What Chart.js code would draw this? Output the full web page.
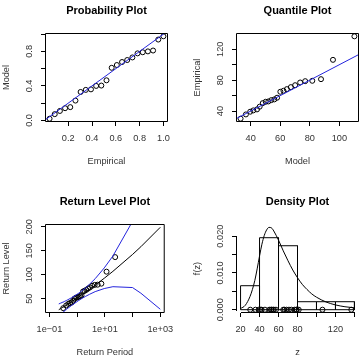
<!DOCTYPE html>
<html>
<head>
<meta charset="utf-8">
<script src="https://cdn.jsdelivr.net/npm/chart.js@4.4.1/dist/chart.umd.min.js"></script>
<style>
  html, body { margin: 0; padding: 0; background: #fff; }
  body { width: 361px; height: 355px; overflow: hidden; position: relative; }
  canvas { position: absolute; }
</style>
</head>
<body>
<canvas id="probPlot" width="181" height="178" style="left:0;top:0"></canvas>
<canvas id="quantPlot" width="181" height="178" style="left:191px;top:0"></canvas>
<canvas id="returnPlot" width="181" height="178" style="left:0;top:191px"></canvas>
<canvas id="densityPlot" width="181" height="178" style="left:191px;top:191px"></canvas>
<script>
// sorted observations (empirical quantiles)
const sortedData = [30.2, 35.7, 39.2, 40.9, 42.2, 45.7, 50.3, 52.1, 52.5, 54.2, 55.1, 57.3,
  65.0, 66.3, 68.4, 71.0, 73.5, 77.0, 78.7, 79.2, 81.3, 106.3, 136.7];

// probability plot
const probEmpirical = [0.0435, 0.0870, 0.1304, 0.1739, 0.2174, 0.2609, 0.3043, 0.3478, 0.3913,
  0.4348, 0.4783, 0.5217, 0.5652, 0.6087, 0.6522, 0.6957, 0.7391, 0.7826, 0.8261, 0.8696,
  0.9130, 0.9565, 1.0000];
const probModel = [0.020, 0.073, 0.110, 0.142, 0.154, 0.230, 0.330, 0.354, 0.360, 0.400, 0.404,
  0.465, 0.610, 0.642, 0.677, 0.700, 0.730, 0.777, 0.790, 0.800, 0.810, 0.937, 0.975];

// quantile plot
const quantModel = [33.2, 36.8, 39.7, 41.8, 44.3, 46.1, 48.2, 50.2, 52.0, 54.0, 56.0, 57.9,
  60.1, 62.2, 64.5, 67.2, 70.1, 73.5, 76.9, 81.7, 87.6, 95.7, 110.2];

// return level plot
const rlPointPeriod = [0.3147, 0.4024, 0.4809, 0.5581, 0.6375, 0.7213, 0.8116, 0.9102, 1.0196,
  1.1422, 1.2817, 1.4427, 1.6311, 1.8553, 2.1277, 2.4663, 2.9003, 3.4761, 4.2808, 5.4848,
  7.4887, 11.491, 23.496];
const rlPeriod = [0.2171, 0.2556, 0.2852, 0.3107, 0.3338, 0.3554, 0.3760, 0.3959, 0.4153, 0.4343,
  0.6213, 0.8306, 1.0913, 1.4427, 1.9576, 2.8037, 4.4814, 9.4913, 19.496, 99.50, 199.5, 999.5];
const rlLevel = [27.0, 29.5, 31.2, 32.6, 33.7, 34.7, 35.6, 36.4, 37.2, 37.9, 43.7, 48.5, 53.1,
  57.9, 63.2, 69.6, 78.2, 92.6, 107.0, 142.2, 158.4, 198.9];
const rlUpper = [39.0, 40.8, 42.0, 43.0, 43.8, 44.5, 45.2, 45.8, 46.4, 46.9, 51.8, 56.2, 60.7,
  65.8, 72.0, 80.1, 91.7, 114.1, 139.0, 211.2, 255.4, 369.9];
const rlLower = [15.0, 18.2, 20.4, 22.2, 23.6, 24.9, 26.0, 27.0, 28.0, 28.9, 35.6, 40.8, 45.5,
  50.0, 54.4, 59.1, 64.7, 71.1, 75.0, 73.2, 61.4, 27.9];

// density plot
const histBreaks = [20, 40, 60, 80, 100, 120, 140];
const histDensity = [0.00652, 0.01957, 0.01739, 0.00217, 0.00217, 0.00217];
const densZ = [20, 25, 30, 32.5, 35, 37.5, 40, 42.5, 45, 47.5, 50, 52.5, 55, 60, 65, 70, 75, 80,
  85, 90, 95, 100, 110, 120, 130, 140];
const densF = [0.0003, 0.0012, 0.0036, 0.0055, 0.0079, 0.0111, 0.0146, 0.0178, 0.0202, 0.0217,
  0.02238, 0.02225, 0.0214, 0.0189, 0.0160, 0.0133, 0.0108, 0.0087, 0.0069, 0.0055, 0.0043,
  0.0034, 0.0021, 0.0013, 0.0008, 0.0005];

// ticks and tick labels
const probXTicks = [0.2, 0.4, 0.6, 0.8, 1.0];
const probXLabels = ['0.2', '0.4', '0.6', '0.8', '1.0'];
const probYTicks = [0, 0.2, 0.4, 0.6, 0.8, 1.0];
const probYLabels = ['0.0', '', '0.4', '', '0.8', ''];
const quantXTicks = [40, 60, 80, 100];
const quantXLabels = ['40', '60', '80', '100'];
const quantYTicks = [40, 60, 80, 100, 120];
const quantYLabels = ['40', '', '80', '', '120'];
const rlXTicks = [0.1, 1, 10, 100, 1000];
const rlXLabels = ['1e\u221201', '', '1e+01', '', '1e+03'];
const rlYTicks = [50, 100, 150, 200];
const rlYLabels = ['50', '100', '150', '200'];
const densXTicks = [20, 40, 60, 80, 100, 120, 140];
const densXLabels = ['20', '40', '60', '80', '', '120', ''];
const densYTicks = [0, 0.005, 0.010, 0.015, 0.020];
const densYLabels = ['0.000', '', '0.010', '', '0.020'];

Chart.defaults.font.family = '"Liberation Sans", Arial, Helvetica, sans-serif';
Chart.defaults.color = '#333';

const BLUE = '#2424dc';

// box round the plot region, or R style axis lines for the histogram
const rFrame = {
    id: 'rFrame',
    afterDatasetsDraw(chart, args, opts) {
        const { ctx, chartArea: a, scales } = chart;
        ctx.save();
        ctx.strokeStyle = '#000';
        ctx.lineWidth = 1;
        ctx.beginPath();
        if (opts.box) {
            ctx.rect(a.left + 0.5, a.top + 0.5, a.right - a.left - 1, a.bottom - a.top - 1);
        } else {
            const xt = scales.x.ticks, yt = scales.y.ticks;
            const y0 = a.bottom - 0.5, x0 = a.left + 0.5;
            ctx.moveTo(Math.round(scales.x.getPixelForValue(xt[0].value)), y0);
            ctx.lineTo(Math.round(scales.x.getPixelForValue(xt[xt.length - 1].value)) + 1, y0);
            ctx.moveTo(x0, Math.round(scales.y.getPixelForValue(yt[0].value)) + 1);
            ctx.lineTo(x0, Math.round(scales.y.getPixelForValue(yt[yt.length - 1].value)));
        }
        ctx.stroke();
        ctx.restore();
    }
};

function rScale(pos, o) {
    const isX = pos === 'bottom';
    return {
        type: o.type || 'linear',
        position: pos,
        bounds: 'data',
        min: o.min,
        max: o.max,
        offset: false,
        afterBuildTicks: s => { s.ticks = o.ticks.map(v => ({ value: v })); },
        afterFit: s => { if (isX) s.height = 56; else s.width = 45; },
        grid: { display: true, drawOnChartArea: false, drawTicks: true, tickLength: 4, color: '#000', lineWidth: 1 },
        border: { display: false },
        ticks: {
            autoSkip: false,
            padding: isX ? 7.2 : o.pad,
            minRotation: isX ? 0 : 90,
            maxRotation: isX ? 0 : 90,
            crossAlign: isX ? 'near' : 'center',
            font: { size: 9.2 },
            color: '#333',
            callback: (v, i) => o.labels[i]
        },
        title: {
            display: true,
            text: o.title,
            font: { size: 9.2 },
            color: '#333',
            padding: isX ? { top: 0, bottom: 11.5 } : { top: 1.2, bottom: 0 }
        }
    };
}

function rOptions(title, xs, ys, box) {
    return {
        responsive: false,
        animation: false,
        devicePixelRatio: 1,
        events: [],
        layout: { padding: { left: 0, top: 0, right: 13, bottom: 0 } },
        plugins: {
            legend: { display: false },
            tooltip: { enabled: false },
            title: {
                display: true,
                text: title,
                fullSize: false,
                font: { size: 11, weight: 'bold' },
                color: '#000',
                padding: { top: 4.1, bottom: 15.7 }
            },
            rFrame: { box: box }
        },
        scales: { x: rScale('bottom', xs), y: rScale('left', ys) }
    };
}

function pointSet(xs, ys) {
    return {
        data: xs.map((x, i) => ({ x: x, y: ys[i] })),
        showLine: false,
        pointRadius: 2.5,
        pointBorderWidth: 1,
        pointBorderColor: '#000',
        pointBackgroundColor: 'rgba(0,0,0,0)',
        clip: 0
    };
}

function lineSet(xs, ys, color, extra) {
    return Object.assign({
        data: xs.map((x, i) => ({ x: x, y: ys[i] })),
        borderColor: color,
        borderWidth: 1,
        pointRadius: 0,
        fill: false,
        tension: 0,
        clip: 0
    }, extra || {});
}

// Probability plot
new Chart(document.getElementById('probPlot'), {
    type: 'line',
    data: {
        datasets: [
            lineSet([-0.1, 1.1], [-0.1, 1.1], BLUE),
            pointSet(probEmpirical, probModel)
        ]
    },
    options: rOptions('Probability Plot',
        { min: 0.0052, max: 1.0383, ticks: probXTicks, labels: probXLabels, title: 'Empirical' },
        { min: -0.018, max: 1.013, ticks: probYTicks, labels: probYLabels, title: 'Model', pad: 5.3 },
        true),
    plugins: [rFrame]
});

// Quantile plot
new Chart(document.getElementById('quantPlot'), {
    type: 'line',
    data: {
        datasets: [
            lineSet([0, 200], [0, 200], BLUE),
            pointSet(quantModel, sortedData)
        ]
    },
    options: rOptions('Quantile Plot',
        { min: 30.1, max: 113.3, ticks: quantXTicks, labels: quantXLabels, title: 'Model' },
        { min: 25.9, max: 141.0, ticks: quantYTicks, labels: quantYLabels, title: 'Empirical', pad: 4.0 },
        true),
    plugins: [rFrame]
});

// Return level plot
new Chart(document.getElementById('returnPlot'), {
    type: 'line',
    data: {
        datasets: [
            lineSet(rlPeriod, rlLevel, '#000'),
            lineSet(rlPeriod, rlUpper, BLUE),
            lineSet(rlPeriod, rlLower, BLUE),
            pointSet(rlPointPeriod, sortedData)
        ]
    },
    options: rOptions('Return Level Plot',
        { type: 'logarithmic', min: 0.0692, max: 1445, ticks: rlXTicks, labels: rlXLabels, title: 'Return Period' },
        { min: 20.1, max: 205.8, ticks: rlYTicks, labels: rlYLabels, title: 'Return Level', pad: 4.0 },
        true),
    plugins: [rFrame]
});

// Density plot: histogram outline built from the bins
const histOutline = [];
histDensity.forEach((d, i) => {
    const lo = histBreaks[i], hi = histBreaks[i + 1];
    histOutline.push({ x: lo, y: 0 }, { x: lo, y: d }, { x: hi, y: d }, { x: hi, y: 0 });
});
histOutline.push({ x: histBreaks[0], y: 0 });

new Chart(document.getElementById('densityPlot'), {
    type: 'line',
    data: {
        datasets: [
            lineSet(densZ, densF, '#000', { cubicInterpolationMode: 'monotone' }),
            pointSet(sortedData, sortedData.map(() => 0)),
            { data: histOutline, borderColor: '#000', borderWidth: 1, pointRadius: 0, fill: false, tension: 0, clip: 0 }
        ]
    },
    options: rOptions('Density Plot',
        { min: 15.2, max: 144.8, ticks: densXTicks, labels: densXLabels, title: 'z' },
        { min: -0.0009, max: 0.0233, ticks: densYTicks, labels: densYLabels, title: 'f(z)', pad: 0.2 },
        false),
    plugins: [rFrame]
});
</script>
</body>
</html>
